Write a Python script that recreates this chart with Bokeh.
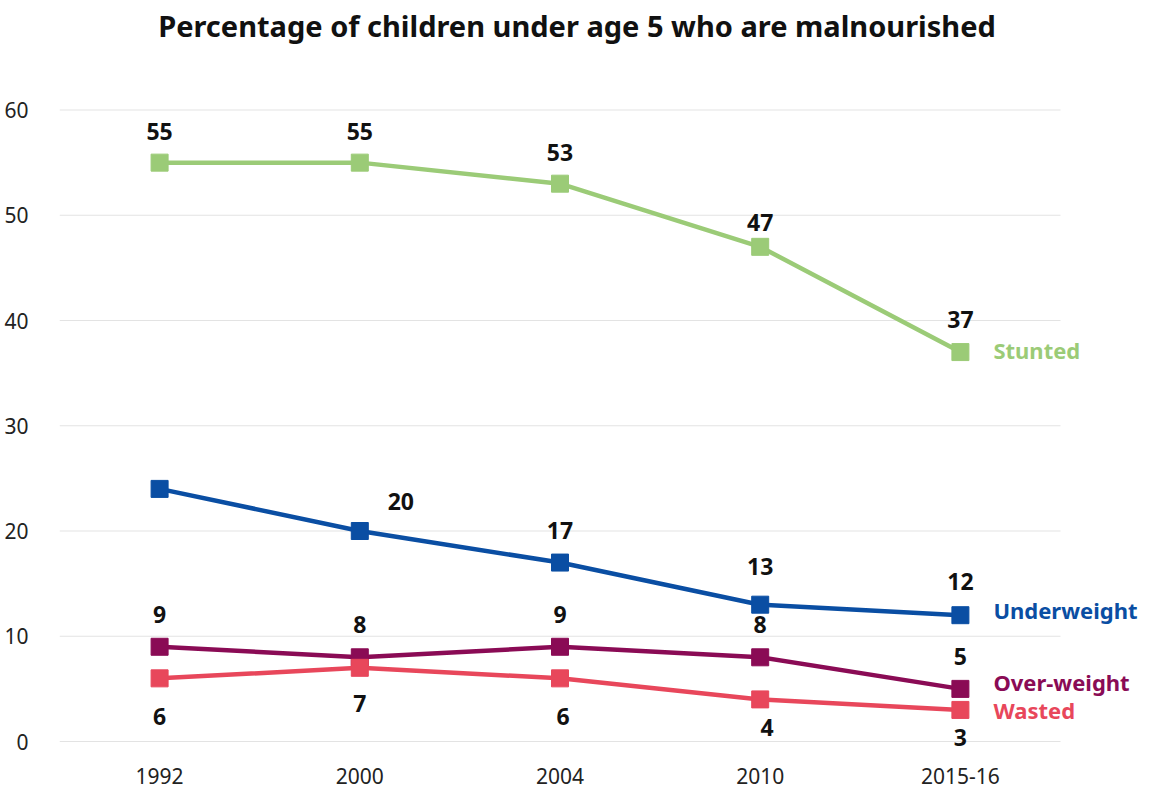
from bokeh.plotting import figure
from bokeh.models import ColumnDataSource, FixedTicker, Range1d, Label
from bokeh.core.properties import value
from bokeh.embed import file_html
from bokeh.resources import INLINE

# Survey rounds and malnutrition rates (% of children under 5)
years = ["1992", "2000", "2004", "2010", "2015-16"]
stunted = [55, 55, 53, 47, 37]
underweight = [24, 20, 17, 13, 12]
overweight = [9, 8, 9, 8, 5]
wasted = [6, 7, 6, 4, 3]
y_ticks = [0, 10, 20, 30, 40, 50, 60]

# Which points carry a value label (1992 underweight is unlabelled)
underweight_labelled = [False, True, True, True, True]

TITLE = "Percentage of children under age 5 who are malnourished"
FONT = "Noto Sans"
W, H = 1153, 789

xs = list(range(len(years)))
x_lo, x_hi = -0.5, len(years) - 0.5

# Frame geometry: the frame fills the canvas to the right and top edges so
# the end-of-line names and the heading are not clipped; gridlines are drawn
# only across the category span.
LEFT, BOTTOM = 59, 34
PX_PER_X = 200.2          # pixels per category
PX_PER_Y = 10.525         # pixels per percentage point
frame_w, frame_h = W - LEFT, H - BOTTOM
y_lo = -1.33
x_end = x_lo + frame_w / PX_PER_X
y_end = y_lo + frame_h / PX_PER_Y

p = figure(width=W, height=H, output_backend="svg", toolbar_location=None,
           x_range=Range1d(x_lo, x_end), y_range=Range1d(y_lo, y_end),
           min_border_left=LEFT, min_border_right=0, min_border_top=0,
           min_border_bottom=BOTTOM)
p.outline_line_color = None
p.background_fill_color = "white"
p.border_fill_color = "white"

# Heading, centred on the canvas, 25 px from the top
p.add_layout(Label(x=x_lo + (W / 2 - LEFT) / PX_PER_X, y=y_end - 25 / PX_PER_Y,
                   text=TITLE, text_font=FONT, text_font_size="29px",
                   text_font_style="bold", text_color="#111111",
                   text_align="center", text_baseline="middle"))

# Axes
for ax in (p.xaxis[0], p.yaxis[0]):
    ax.axis_line_color = None
    ax.major_tick_line_color = None
    ax.minor_tick_line_color = None
    ax.major_label_text_font = FONT
    ax.major_label_text_font_size = "21px"
    ax.major_label_text_color = "#222222"

p.xaxis.ticker = FixedTicker(ticks=xs)
p.xaxis.major_label_overrides = {i: y for i, y in enumerate(years)}
p.xaxis.major_label_standoff = 6
p.yaxis.ticker = FixedTicker(ticks=y_ticks)
p.yaxis.major_label_standoff = 25

p.xgrid.grid_line_color = None
p.ygrid.grid_line_color = None
p.segment(x0=[x_lo] * len(y_ticks), x1=[x_hi] * len(y_ticks),
          y0=y_ticks, y1=y_ticks, line_color="#e3e3e3", line_width=1)

series = [
    ("Stunted", stunted, "#9bcb77"),
    ("Underweight", underweight, "#0a4ea3"),
    ("Over-weight", overweight, "#8a0b55"),
    ("Wasted", wasted, "#e8475b"),
]

for name, vals, color in series:
    src = ColumnDataSource(dict(x=xs, y=vals))
    p.line("x", "y", source=src, line_color=color, line_width=4.5)
    p.scatter("x", "y", source=src, marker="square", size=17,
              fill_color=color, line_color=color)


# Value labels: dx to the right, rise upward (pixels) from each marker
def value_labels(vals, dx, rise, keep=None):
    keep = keep or [True] * len(vals)
    sel = [i for i in range(len(vals)) if keep[i]]
    return ColumnDataSource(dict(
        x=[xs[i] for i in sel], y=[vals[i] for i in sel],
        t=[str(vals[i]) for i in sel],
        dx=[dx[i] for i in sel], dy=[-rise[i] for i in sel]))


label_sets = [
    value_labels(stunted, [0, 0, 0, 0, 0], [31, 31, 31, 24, 33]),
    value_labels(underweight, [0, 41, 0, 0, 0], [0, 30, 32, 38, 34],
                 underweight_labelled),
    value_labels(overweight, [0, 0, 0, 0, 0], [32, 33, 32, 33, 32]),
    value_labels(wasted, [0, 0, 3, 7, 0], [-38, -36, -38, -28, -28]),
]
for src in label_sets:
    p.text("x", "y", text="t", source=src, x_offset="dx", y_offset="dy",
           text_font=value(FONT), text_font_size="23px",
           text_font_style="bold", text_color="#111111",
           text_align="center", text_baseline="middle")

# Series names at the right end of each line
name_rise = [2, 5, 7, 0]
for (name, vals, color), rise in zip(series, name_rise):
    p.text(x=[xs[-1]], y=[vals[-1]], text=[name], x_offset=33, y_offset=-rise,
           text_font=value(FONT), text_font_size="22px",
           text_font_style="bold", text_color=color,
           text_align="left", text_baseline="middle")

open("out.html", "w").write(file_html(p, INLINE))
